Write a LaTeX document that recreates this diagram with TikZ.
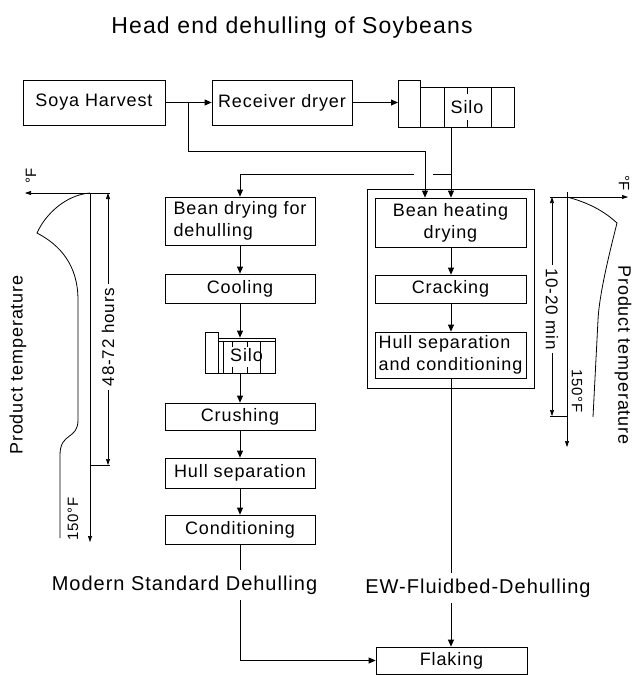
\documentclass[tikz,border=0pt]{standalone}
\usepackage{fontspec}
\setmainfont{Liberation Sans}[LetterSpace = 5.0]
\usetikzlibrary{arrows.meta}

\begin{document}
\begin{tikzpicture}[x = 1pt, y = -1pt, line width = .8pt,
    font = \fontsize{18}{22}\selectfont,
    box/.style = {draw, minimum width = 150pt, inner sep = 0pt},
    flow/.style = {-{Triangle[length = 7pt, width = 6pt]}},
    axis/.style = {-{Triangle[length = 6pt, width = 4pt]}, line width = .6pt},
    dim/.style = {{Triangle[length = 6pt, width = 4pt]}-{Triangle[length = 6pt, width = 4pt]},
                  line width = .6pt},
    group/.style = {fill = white, inner sep = 6pt, font = \fontsize{20}{24}\selectfont}]
  \useasboundingbox (0,0) rectangle (636,675);

  \node [font = \fontsize{23}{27}\selectfont] (title) at (292,28) {Head end dehulling of Soybeans};

  % intake
  \node [box, minimum width = 142pt, minimum height = 45pt] (harvest) at (94,102.5) {Soya Harvest};
  \node [box, minimum width = 140pt, minimum height = 45pt] (receiver) at (282,102.5) {Receiver dryer};
  \node [box, minimum width = 94pt, minimum height = 40pt] (silo) at (467,107) {Silo};
  \draw (398,80) rectangle (420,127);
  \draw (444,87) -- (444,127) (491,87) -- (491,127)
        (467,87) -- (467,94) (467,120) -- (467,127);
  \coordinate (siloin) at (398,102.5);
  \coordinate (siloout) at (451,127);
  \coordinate (split) at (188,102.5);
  \coordinate (bypass) at (425,151);
  \coordinate (tap) at (451,174);
  \coordinate (hopr) at (433,174);
  \coordinate (hopl) at (414,174);

  % modern standard dehulling
  \node [box, minimum height = 48pt, align = left] (dry) at (240,221) {Bean drying for\\dehulling};
  \node [box, minimum height = 29pt] (cool) at (240,288.5) {Cooling};
  \node [box, minimum width = 57pt, minimum height = 35pt] (silob) at (246.5,355.5) {Silo};
  \draw (205,332) rectangle (218,373);
  \draw (218,341) -- (275,341) (223,341) -- (223,373) (260,341) -- (260,373)
        (232,341) -- (232,347) (247,341) -- (247,347)
        (232,367) -- (232,373) (247,367) -- (247,373);
  \node [box, minimum height = 27pt] (crush) at (240,416.5) {Crushing};
  \node [box, minimum height = 30pt] (hulls) at (240,473) {Hull separation};
  \node [box, minimum height = 29pt] (cond) at (240,529.5) {Conditioning};

  % fluidbed dehulling
  \node [draw, minimum width = 167pt, minimum height = 199pt, inner sep = 0pt] (frame) at (450.5,288.5) {};
  \node [box, minimum width = 151pt, minimum height = 49pt, align = center] (heat) at (450.5,222.5) {Bean heating\\drying};
  \node [box, minimum width = 151pt, minimum height = 28pt] (crack) at (450.5,289) {Cracking};
  \node [box, minimum width = 151pt, minimum height = 46pt, align = left] (hullc) at (450.5,355) {Hull separation\\and conditioning};

  \node [box, minimum width = 151pt, minimum height = 27pt] (flaking) at (451.5,660.5) {Flaking};

  \draw [flow] (harvest) -- (receiver);
  \draw [flow] (receiver) -- (siloin);
  \draw [flow] (split) |- (bypass) -- (bypass |- heat.north);
  \draw [flow] (siloout) -- (siloout |- heat.north);
  \draw (tap) -- (hopr);
  \draw [flow] (hopl) -| (dry);
  \draw [flow] (dry) -- (cool);
  \draw [flow] (cool) -- (cool |- silob.north);
  \draw [flow] (cool |- silob.south) -- (crush);
  \draw [flow] (crush) -- (hulls);
  \draw [flow] (hulls) -- (cond);
  \draw [flow] (heat.south -| siloout) -- (crack.north -| siloout);
  \draw [flow] (crack.south -| siloout) -- (hullc.north -| siloout);
  \draw [flow] (cond) |- (flaking);
  \draw [flow] (hullc.south -| siloout) -- (flaking.north -| siloout);

  \node [group] (standard) at (184.5,585) {Modern Standard Dehulling};
  \node [group] (fluidbed) at (478,588) {EW-Fluidbed-Dehulling};

  % temperature curves
  \draw [axis] (110,193) -- (25,193);
  \draw [axis] (90,193) -- (90,542);
  \draw (90,193) .. controls (65,195) and (45,215) .. (37,233)
        .. controls (60,245) and (78,265) .. (78,300) -- (78,420)
        .. controls (78,440) and (60,432) .. (60,455) -- (60,538);
  \draw [dim] (108,193) -- (108,465);
  \draw (90,465) -- (110,465);
  \node [rotate = 90] at (18,365) {Product temperature};
  \node [rotate = 90, font = \fontsize{15}{18}\selectfont] at (31,176) {°F};
  \node [rotate = 90, fill = white, font = \fontsize{17}{20}\selectfont] at (108,337) {48-72 hours};
  \node [rotate = 90, font = \fontsize{15}{18}\selectfont] at (73,519) {150°F};

  \draw [axis] (550,197) -- (628,197);
  \draw [axis] (567,192) -- (567,447);
  \draw (567,197) .. controls (590,203) and (605,212) .. (617,223)
        .. controls (605,270) and (599,300) .. (598,320) -- (593,417);
  \draw [dim] (552,197) -- (552,416);
  \draw (550,416) -- (567,416);
  \node [rotate = -90] at (623,355) {Product temperature};
  \node [rotate = -90, font = \fontsize{15}{18}\selectfont] at (624,183) {°F};
  \node [rotate = -90, fill = white, font = \fontsize{17}{20}\selectfont] at (552,309) {10-20 min};
  \node [rotate = -90, font = \fontsize{15}{18}\selectfont] at (577,391) {150°F};
\end{tikzpicture}
\end{document}
